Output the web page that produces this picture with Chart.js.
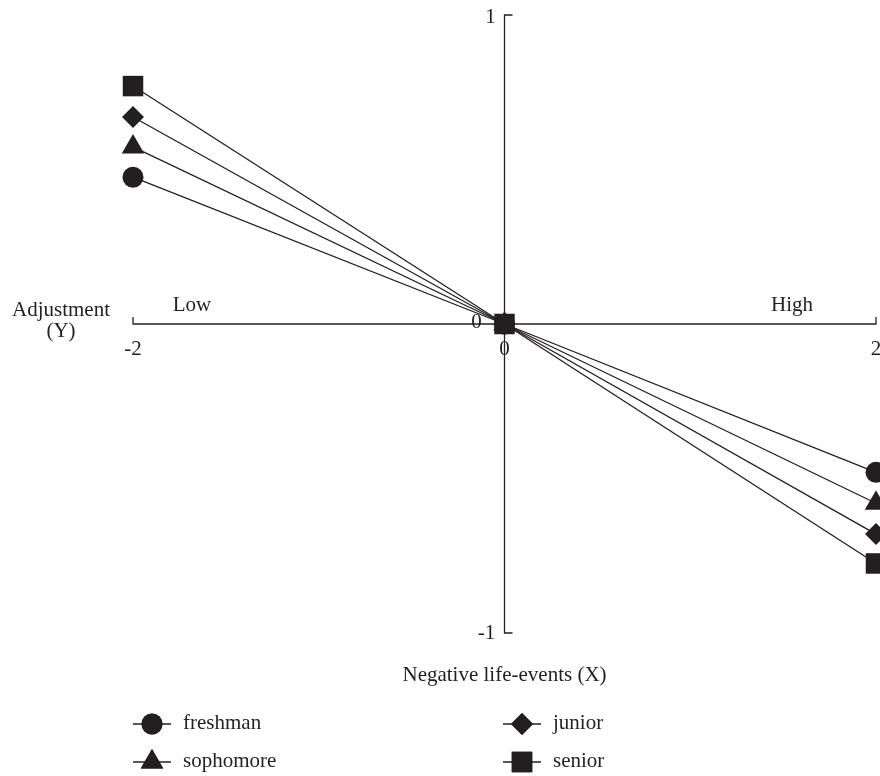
<!DOCTYPE html>
<html>
<head>
<meta charset="utf-8">
<script src="https://cdn.jsdelivr.net/npm/chart.js@4"></script>
<style>
  html, body { margin: 0; padding: 0; background: #fff; overflow: hidden; }
  canvas { display: block; }
</style>
</head>
<body>
<canvas id="chart" width="880" height="776"></canvas>
<script>
// data
const xValues = [-2, 0, 2];
const freshman = [0.475, 0, -0.48];
const sophomore = [0.573, 0, -0.58];
const junior = [0.67, 0, -0.68];
const senior = [0.77, 0, -0.775];
const xTicks = [-2, 0, 2];
const yTicks = [-1, 0, 1];

const ink = '#231f20';
const font = '"Liberation Serif", "DejaVu Serif", serif';

const series = [
    { label: 'freshman', values: freshman, style: 'circle', r: 10.5 },
    { label: 'sophomore', values: sophomore, style: 'triangle', r: 13 },
    { label: 'junior', values: junior, style: 'rectRot', r: 11 },
    { label: 'senior', values: senior, style: 'rect', r: 14.5 }
];

const datasets = series.map(s => ({
    label: s.label,
    data: xValues.map((x, i) => ({ x: x, y: s.values[i] })),
    showLine: true,
    borderColor: ink,
    borderWidth: 1.3,
    backgroundColor: ink,
    pointBackgroundColor: ink,
    pointBorderColor: ink,
    pointBorderWidth: 0,
    pointStyle: s.style,
    pointRadius: s.r,
    pointHoverRadius: s.r,
    clip: false
}));

// axes drawn through the middle
const crossAxes = {
    id: 'crossAxes',
    beforeDatasetsDraw(chart) {
        const ctx = chart.ctx;
        const xs = chart.scales.x, ys = chart.scales.y;
        const x0 = xs.getPixelForValue(0), y0 = ys.getPixelForValue(0);
        const xl = xs.getPixelForValue(xTicks[0]), xr = xs.getPixelForValue(xTicks[2]);
        const yt = ys.getPixelForValue(yTicks[2]), yb = ys.getPixelForValue(yTicks[0]);
        ctx.save();
        ctx.strokeStyle = ink;
        ctx.lineWidth = 1.3;
        ctx.beginPath();
        // y axis with end ticks
        ctx.moveTo(x0 + 8, yt); ctx.lineTo(x0, yt); ctx.lineTo(x0, yb); ctx.lineTo(x0 + 8, yb);
        // x axis with end ticks
        ctx.moveTo(xl, y0 - 7); ctx.lineTo(xl, y0); ctx.lineTo(xr, y0); ctx.lineTo(xr, y0 - 7);
        ctx.stroke();
        ctx.restore();
    },
    afterDraw(chart) {
        const ctx = chart.ctx;
        const xs = chart.scales.x, ys = chart.scales.y;
        const x0 = xs.getPixelForValue(0), y0 = ys.getPixelForValue(0);
        ctx.save();
        ctx.fillStyle = ink;
        ctx.font = '21px ' + font;
        ctx.textAlign = 'center';
        ctx.textBaseline = 'middle';
        // tick labels
        ctx.fillText('1', x0 - 14, ys.getPixelForValue(1) + 2);
        ctx.fillText('-1', x0 - 18, ys.getPixelForValue(-1));
        ctx.fillText('0', x0 - 28, y0 - 2);
        xTicks.forEach(v => ctx.fillText(String(v), xs.getPixelForValue(v), y0 + 25));
        ctx.fillText('Low', 192, y0 - 19);
        ctx.fillText('High', 792, y0 - 19);
        ctx.fillText('Adjustment', 61, 310);
        ctx.fillText('(Y)', 61, 331);
        ctx.fillText('Negative life-events (X)', x0, 675);

        // legend
        const cols = [[152, 0], [522, 2]];
        const rows = [724, 762];
        cols.forEach(([cx, start]) => {
            rows.forEach((ry, k) => {
                const s = series[start + k];
                ctx.strokeStyle = ink;
                ctx.lineWidth = 1.3;
                ctx.beginPath();
                ctx.moveTo(cx - 19, ry); ctx.lineTo(cx + 19, ry);
                ctx.stroke();
                Chart.helpers.drawPoint(ctx, { pointStyle: s.style, radius: s.r, borderWidth: 0 }, cx, ry);
                ctx.fill();
                ctx.textAlign = 'left';
                ctx.fillText(s.label, cx + 31, ry - 1);
            });
        });
        ctx.restore();
    }
};

const chart = new Chart(document.getElementById('chart'), {
    type: 'scatter',
    data: { datasets: datasets },
    options: {
        responsive: false,
        animation: false,
        layout: { autoPadding: false, padding: { left: 133, right: 4, top: 15, bottom: 143 } },
        scales: {
            x: { type: 'linear', min: -2, max: 2, display: false },
            y: { type: 'linear', min: -1, max: 1, display: false }
        },
        plugins: {
            legend: { display: false },
            tooltip: { enabled: false }
        }
    },
    plugins: [crossAxes]
});
</script>
</body>
</html>
